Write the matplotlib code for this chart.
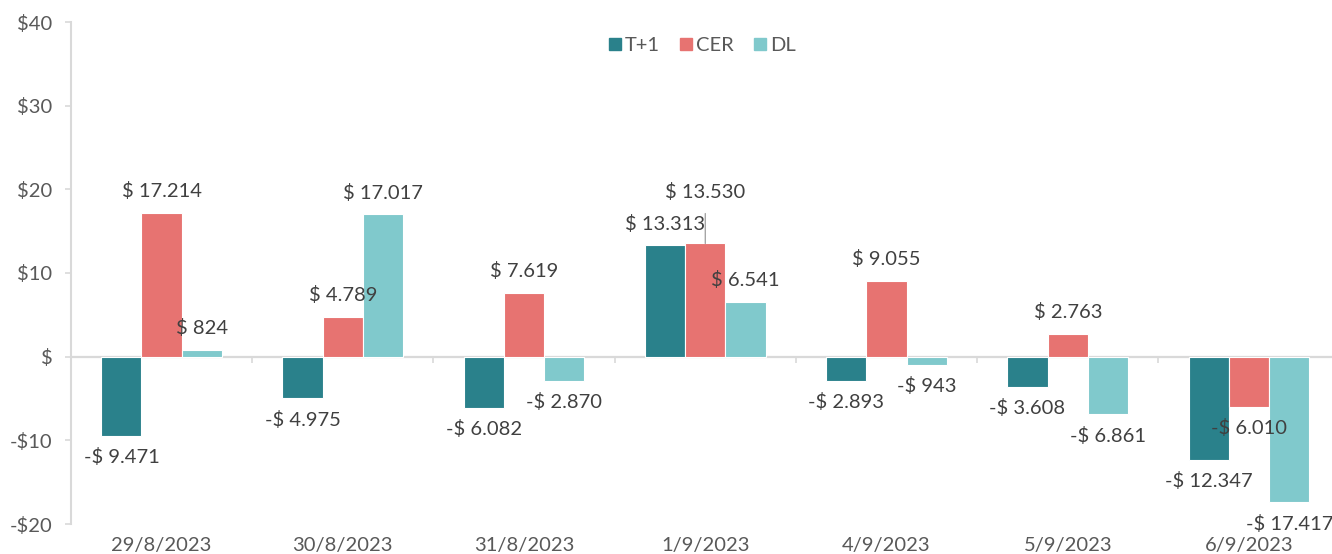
import matplotlib
matplotlib.use("Agg")
import matplotlib.pyplot as plt
from matplotlib.lines import Line2D
import numpy as np

plt.rcParams['font.family'] = ['Lato', 'DejaVu Sans']

categories = ["29/8/2023", "30/8/2023", "31/8/2023", "1/9/2023", "4/9/2023", "5/9/2023", "6/9/2023"]
series_names = ["T+1", "CER", "DL"]
t1 = [-9471, -4975, -6082, 13313, -2893, -3608, -12347]
cer = [17214, 4789, 7619, 13530, 9055, 2763, -6010]
dl = [824, 17017, -2870, 6541, -943, -6861, -17417]
y_ticks = [40000, 30000, 20000, 10000, 0, -10000, -20000]
y_tick_labels = ["$40", "$30", "$20", "$10", "$", "-$10", "-$20"]

colors = ["#2A818B", "#E77371", "#80C9CC"]
text_col = "#595959"
label_col = "#404040"
grid_col = "#D9D9D9"


def fmt(v):
    s = f"{abs(v):,}".replace(",", ".")
    return ("-$ " if v < 0 else "$ ") + s


fig = plt.figure(figsize=(13.32, 5.54), dpi=100)
ax = fig.add_axes([71 / 1332, 1 - 524 / 554, 1 - 71 / 1332, (524 - 22) / 554])

x = np.arange(len(categories))
w = 0.222
all_series = [t1, cer, dl]
for k, (name, vals, col) in enumerate(zip(series_names, all_series, colors)):
    xs = x + (k - 1) * w
    ax.bar(xs, vals, width=w, color=col, edgecolor="white", linewidth=0.8, label=name, zorder=2)
    for xi, v in zip(xs, vals):
        if name == "CER" and v == 13530:
            ax.annotate(fmt(v), xy=(xi, v), xytext=(0, 37), textcoords="offset points",
                        ha="center", va="center", fontsize=14.5, color=label_col,
                        arrowprops=dict(arrowstyle="-", color="#A6A6A6", lw=1.0,
                                        shrinkA=7, shrinkB=0))
            continue
        off = 15.5 if v >= 0 else -15.5
        ax.annotate(fmt(v), xy=(xi, v), xytext=(0, off), textcoords="offset points",
                    ha="center", va="center", fontsize=14.5, color=label_col, zorder=3)

ax.set_ylim(-20000, 40000)
ax.set_xlim(-0.5, 6.458)
ax.set_yticks(y_ticks)
ax.set_yticklabels(y_tick_labels)
ax.set_xticks(x)
ax.set_xticklabels(categories)

for s in ["top", "right", "bottom"]:
    ax.spines[s].set_visible(False)
ax.spines["left"].set_color(grid_col)
ax.spines["left"].set_linewidth(1.5)
ax.tick_params(axis="y", colors=grid_col, labelcolor=text_col, labelsize=14.5,
               length=4.5, width=1.2, pad=9)
ax.tick_params(axis="x", length=0, labelcolor=text_col, labelsize=14.5, pad=9)

ax.axhline(0, color=grid_col, lw=1.6, zorder=1)
sec = ax.secondary_xaxis(1 / 3)
sec.set_xticks(np.arange(len(categories) + 1) - 0.5)
sec.set_xticklabels([])
sec.spines["bottom"].set_visible(False)
sec.spines["top"].set_visible(False)
sec.tick_params(axis="x", direction="out", length=4.5, width=1.2, colors=grid_col)

handles = [Line2D([], [], marker="s", ls="none", markersize=8, color=c) for c in colors]
leg = ax.legend(handles, series_names, loc="center", bbox_to_anchor=(0.5, 0.954), ncol=3,
                frameon=False, fontsize=14.5, handletextpad=0.1, columnspacing=0.9,
                handlelength=0.8)
for t in leg.get_texts():
    t.set_color(text_col)

fig.savefig("out.png", dpi=100)
